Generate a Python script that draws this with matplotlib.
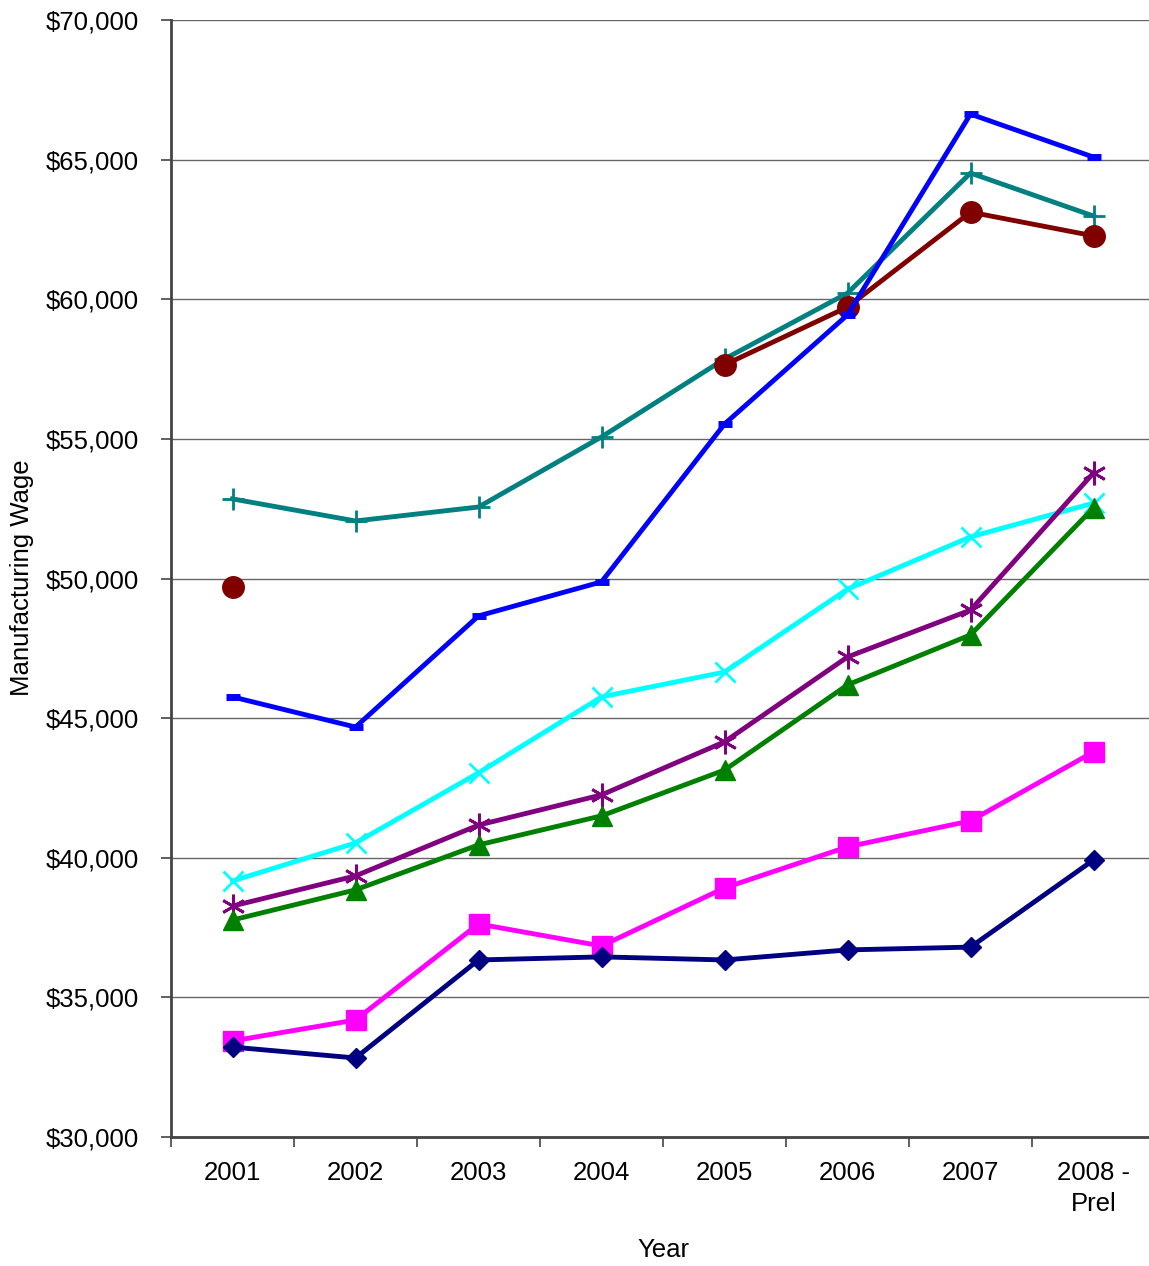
import numpy as np
import matplotlib.pyplot as plt
from matplotlib.ticker import FuncFormatter, FixedLocator

plt.rcParams['font.family'] = ['Liberation Sans', 'DejaVu Sans']

# Data
years = ['2001', '2002', '2003', '2004', '2005', '2006', '2007', '2008 -\nPrel']
teal_plus = [52850, 52060, 52560, 55070, 57860, 60220, 64520, 62980]
darkred_circle = [49700, np.nan, np.nan, np.nan, 57650, 59720, 63120, 62270]
blue_dash = [45760, 44680, 48660, 49880, 55530, 59440, 66630, 65090]
cyan_x = [39170, 40530, 43040, 45760, 46650, 49620, 51490, 52700]
purple_star = [38270, 39350, 41170, 42250, 44150, 47190, 48870, 53780]
green_tri = [37770, 38850, 40460, 41500, 43140, 46190, 47980, 52530]
magenta_sq = [33440, 34190, 37630, 36840, 38920, 40390, 41320, 43790]
navy_diamond = [33220, 32830, 36340, 36450, 36340, 36700, 36800, 39920]

fs = 18.5

fig = plt.figure(figsize=(11.49, 12.66), dpi=100)
ax = fig.add_axes([171 / 1149, 1 - 1137 / 1266, 984 / 1149, 1117 / 1266])

x = np.arange(len(years))
lw = 3.5

ax.plot(x, teal_plus, color='#008080', lw=lw, marker='+', ms=16, mew=2)
ax.plot(x, darkred_circle, color='#800000', lw=lw, marker='o', ms=15.5)
ax.plot(x, blue_dash, color='#0000FF', lw=lw, marker='_', ms=10, mew=5)
ax.plot(x, cyan_x, color='#00FFFF', lw=lw, marker='x', ms=14, mew=2)
ax.plot(x, purple_star, color='#800080', lw=lw, marker=(6, 2, 0), ms=17, mew=2)
ax.plot(x, green_tri, color='#008000', lw=lw, marker='^', ms=15)
ax.plot(x, magenta_sq, color='#FF00FF', lw=lw, marker='s', ms=14.5)
ax.plot(x, navy_diamond, color='#000080', lw=lw, marker='D', ms=10.5)

ax.set_xlim(-0.5, len(years) - 0.5)
ax.set_ylim(30000, 70000)
ax.set_yticks(np.arange(30000, 70001, 5000))
ax.yaxis.set_major_formatter(FuncFormatter(lambda v, p: '${:,.0f}'.format(v)))
ax.grid(axis='y', color='#666666', lw=1)
ax.set_axisbelow(True)

ax.set_xticks(x)
ax.set_xticklabels(years, fontsize=fs, linespacing=1.4, va='top')
ax.tick_params(axis='x', which='major', length=0, pad=17)
ax.xaxis.set_minor_locator(FixedLocator(np.arange(-0.5, len(years), 1)))
ax.tick_params(axis='x', which='minor', length=7, width=1.2, color='#444444')
ax.tick_params(axis='y', length=7, width=1.2, color='#444444', labelsize=fs, pad=16)

for s in ['top', 'right']:
    ax.spines[s].set_visible(False)
ax.spines['left'].set_color('#444444')
ax.spines['left'].set_linewidth(2)
ax.spines['bottom'].set_color('#444444')
ax.spines['bottom'].set_linewidth(2)

ax.set_xlabel('Year', fontsize=fs)
fig.text(22 / 1149, 1 - 578 / 1266, 'Manufacturing Wage', rotation=90,
         fontsize=fs, ha='center', va='center')
ax.xaxis.set_label_coords((663 - 171) / 984, -(1250 - 1137) / 1117)
ax.xaxis.label.set_va('center')

fig.savefig('out.png', dpi=100)
